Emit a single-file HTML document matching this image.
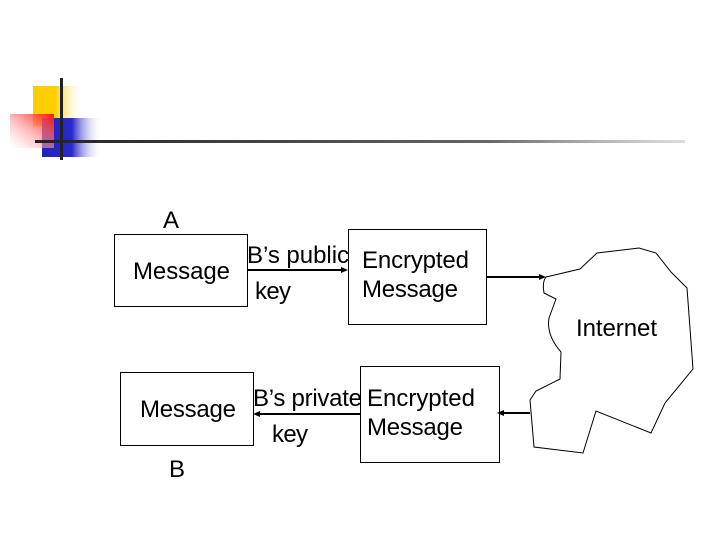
<!DOCTYPE html>
<html><head><meta charset="utf-8"><style>body{margin:0;background:#fff}svg{display:block}</style></head><body>
<svg width="720" height="540" viewBox="0 0 720 540" xmlns="http://www.w3.org/2000/svg" font-family="Liberation Sans, sans-serif">
<defs>
<linearGradient id="gy" x1="0" x2="1"><stop offset="0" stop-color="#ffcc00"/><stop offset="0.45" stop-color="#ffd000"/><stop offset="1" stop-color="#fff" stop-opacity="0"/></linearGradient>
<linearGradient id="gb" x1="0" x2="1"><stop offset="0" stop-color="#2222bb"/><stop offset="0.5" stop-color="#2a2acc"/><stop offset="1" stop-color="#fff" stop-opacity="0"/></linearGradient>
<linearGradient id="gr" x1="1" y1="0" x2="0" y2="1"><stop offset="0" stop-color="#ff1010"/><stop offset="1" stop-color="#ffffff" stop-opacity="0.3"/></linearGradient>
<linearGradient id="gl" x1="0" x2="1"><stop offset="0" stop-color="#222"/><stop offset="0.7" stop-color="#666"/><stop offset="1" stop-color="#aaa" stop-opacity="0.4"/></linearGradient>
</defs>
<rect x="33" y="86" width="50" height="40" fill="url(#gy)"/>
<rect x="42" y="118" width="60" height="39" fill="url(#gb)"/>
<rect x="10" y="114" width="44" height="34" fill="url(#gr)"/>
<rect x="35" y="140" width="650" height="3" fill="url(#gl)"/>
<rect x="60" y="78" width="3" height="82" fill="#222"/>
<g fill="none" stroke="#000" stroke-width="1">
<rect x="114.5" y="234.5" width="133" height="72"/>
<rect x="348.5" y="229.5" width="138" height="95"/>
<rect x="120.5" y="372.5" width="133" height="73"/>
<rect x="360.5" y="366.5" width="139" height="96"/>
<path d="M546,277 L580,269 L597,253 L639,248 L656,253 L671,272 L687,288 L693,369 L665,403 L651,433 L596,411 L583,453 L534,447 L530,400 L536,391 L560,379 L561,352 Q546,335 549,318 L556,299 L544,293 Q542,282 546,277 Z"/>
</g>
<g stroke="#000" stroke-width="2">
<line x1="247" y1="270" x2="342" y2="270"/>
<line x1="487" y1="277" x2="540" y2="277"/>
<line x1="360" y1="414" x2="259" y2="414"/>
<line x1="530" y1="413" x2="503" y2="413"/>
</g>
<g fill="#000">
<path d="M348,270 l-7,-3 v6z"/><path d="M546,277 l-7,-3 v6z"/>
<path d="M253,414 l7,-3 v6z"/><path d="M497,413 l7,-3 v6z"/>
</g>
<g font-size="24" fill="#000" lengthAdjust="spacingAndGlyphs">
<text x="163" y="228" textLength="16">A</text>
<text x="133" y="279" textLength="97">Message</text>
<text x="247" y="263" textLength="102">B’s public</text>
<text x="255" y="299" textLength="36">key</text>
<text x="362" y="268" textLength="107">Encrypted</text>
<text x="362" y="297" textLength="96">Message</text>
<text x="576" y="336" textLength="81">Internet</text>
<text x="140" y="417" textLength="96">Message</text>
<text x="253" y="406" textLength="109">B’s private</text>
<text x="272" y="442" textLength="36">key</text>
<text x="367" y="406" textLength="108">Encrypted</text>
<text x="367" y="435" textLength="96">Message</text>
<text x="169" y="477" textLength="15">B</text>
</g>
</svg>
</body></html>
